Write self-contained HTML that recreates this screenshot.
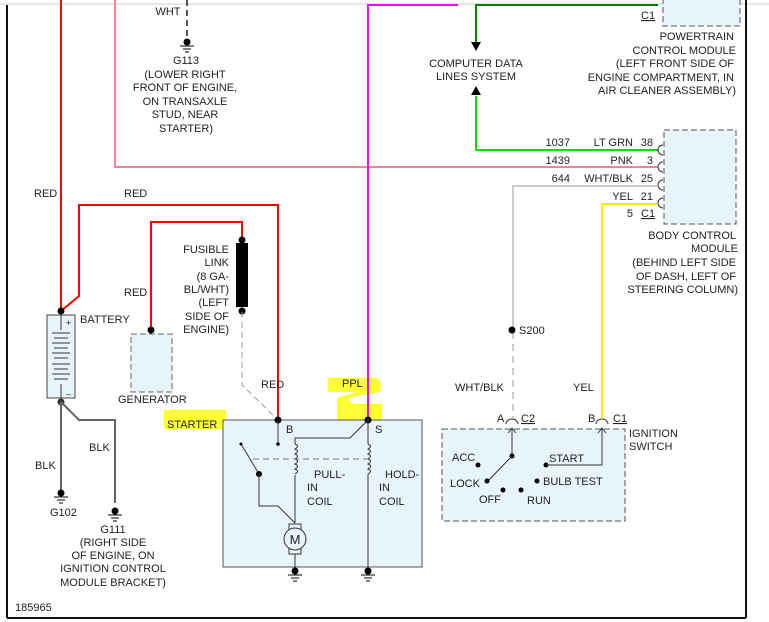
<!DOCTYPE html>
<html><head><meta charset="utf-8"><style>
html,body{margin:0;padding:0;background:#fff}
svg{display:block}
text{font-family:"Liberation Sans",sans-serif;font-size:11px;fill:#222}
</style></head><body>
<svg width="769" height="622" viewBox="0 0 769 622" xmlns="http://www.w3.org/2000/svg">
<line x1="0" y1="4" x2="769" y2="4" stroke="#ccc" stroke-width="1"/>
<line x1="7" y1="5" x2="7" y2="618" stroke="#111" stroke-width="2"/>
<line x1="7" y1="618" x2="746" y2="618" stroke="#111" stroke-width="2"/>
<line x1="746" y1="0" x2="746" y2="618" stroke="#111" stroke-width="2"/>

<!-- highlights -->
<rect x="164" y="410" width="62" height="19" fill="#ffff33"/>
<path d="M328 378 H376 Q383 380 380 392 L348 398 L352 404 H382 V420 H337 L337 398 L356 392 H328 Z" fill="#ffff33"/>

<!-- pink -->
<polyline points="115,0 115,167 658,167" fill="none" stroke="#ff7f9f" stroke-width="2"/>
<!-- magenta -->
<polyline points="458,5 368,5 368,420" fill="none" stroke="#ff00ff" stroke-width="2"/>
<!-- red wires -->
<line x1="61" y1="0" x2="61" y2="311" stroke="#f00" stroke-width="2"/>
<polyline points="61,311 79,296 79,205 278,205 278,420" fill="none" stroke="#f00" stroke-width="2"/>
<polyline points="151,334 151,222 242,222 242,240" fill="none" stroke="#f00" stroke-width="2"/>
<!-- fusible link -->
<rect x="236" y="243" width="12" height="64" fill="#000"/>
<circle cx="242" cy="240" r="3.5" fill="#000"/>
<circle cx="242" cy="311" r="3.5" fill="#000"/>
<polyline points="242,312 242,385 278,420" fill="none" stroke="#999" stroke-width="1" stroke-dasharray="6,4"/>

<!-- G113 -->
<line x1="187" y1="0" x2="187" y2="38" stroke="#555" stroke-width="2" stroke-dasharray="6,4"/>
<circle cx="187" cy="42" r="3.5" fill="#000"/>
<line x1="180" y1="46" x2="194" y2="46" stroke="#000"/><line x1="183" y1="49" x2="191" y2="49" stroke="#000"/><line x1="185" y1="52" x2="189" y2="52" stroke="#000"/>
<text x="168" y="15" text-anchor="middle">WHT</text>
<g text-anchor="middle"><text x="186" y="64">G113</text><text x="185" y="78">(LOWER RIGHT</text><text x="185" y="91">FRONT OF ENGINE,</text><text x="185" y="105">ON TRANSAXLE</text><text x="185" y="118">STUD, NEAR</text><text x="186" y="132">STARTER)</text></g>

<!-- labels RED -->
<text x="34" y="197">RED</text><text x="124" y="197">RED</text><text x="124" y="296">RED</text>
<g text-anchor="end"><text x="229" y="253">FUSIBLE</text><text x="229" y="266">LINK</text><text x="229" y="280">(8 GA-</text><text x="229" y="293">BL/WHT)</text><text x="229" y="306">(LEFT</text><text x="229" y="320">SIDE OF</text><text x="229" y="333">ENGINE)</text></g>

<!-- battery -->
<rect x="47" y="315" width="28" height="83" fill="#e8f4fb" stroke="#444"/>
<circle cx="61" cy="311" r="3.5" fill="#000"/>
<line x1="61" y1="315" x2="61" y2="330" stroke="#333"/>
<g stroke="#333"><line x1="52" y1="333" x2="70" y2="333"/><line x1="54" y1="338" x2="68" y2="338"/><line x1="52" y1="343" x2="70" y2="343"/><line x1="54" y1="348" x2="68" y2="348"/><line x1="52" y1="353" x2="70" y2="353"/><line x1="54" y1="358" x2="68" y2="358"/><line x1="52" y1="364" x2="70" y2="364"/><line x1="54" y1="369" x2="68" y2="369"/><line x1="52" y1="374" x2="70" y2="374"/><line x1="54" y1="379" x2="68" y2="379"/><line x1="61" y1="384" x2="61" y2="398"/></g>
<text x="66" y="326" style="font-size:9px">+</text><text x="66" y="397" style="font-size:9px">–</text>
<text x="80" y="323">BATTERY</text>
<circle cx="61" cy="402" r="3.5" fill="#333"/>
<line x1="61" y1="402" x2="61" y2="490" stroke="#666" stroke-width="2"/>
<polyline points="61,402 79,420 115,420 115,503" fill="none" stroke="#666" stroke-width="2"/>
<circle cx="61" cy="493" r="3.5" fill="#000"/>
<line x1="54" y1="497" x2="68" y2="497" stroke="#000"/><line x1="57" y1="500" x2="65" y2="500" stroke="#000"/><line x1="59" y1="503" x2="63" y2="503" stroke="#000"/>
<circle cx="115" cy="511" r="3.5" fill="#000"/>
<line x1="108" y1="515" x2="122" y2="515" stroke="#000"/><line x1="111" y1="518" x2="119" y2="518" stroke="#000"/><line x1="113" y1="521" x2="117" y2="521" stroke="#000"/>
<text x="35" y="469">BLK</text><text x="89" y="451">BLK</text>
<text x="50" y="516">G102</text>
<g text-anchor="middle"><text x="113" y="533">G111</text><text x="113" y="546">(RIGHT SIDE</text><text x="113" y="559">OF ENGINE, ON</text><text x="113" y="572">IGNITION CONTROL</text><text x="113" y="586">MODULE BRACKET)</text></g>
<text x="15" y="611">185965</text>

<!-- generator -->
<rect x="131" y="334" width="41" height="58" fill="#e8f4fb" stroke="#666" stroke-dasharray="6,3"/>
<circle cx="151" cy="330" r="3.5" fill="#000"/>
<text x="118" y="403">GENERATOR</text>

<!-- starter -->
<rect x="223" y="420" width="199" height="147" fill="#e8f4fb" stroke="#555"/>
<text x="167" y="428">STARTER</text><text x="261" y="388">RED</text><text x="342" y="387">PPL</text>
<circle cx="278" cy="420" r="3.5" fill="#000"/><circle cx="368" cy="420" r="3.5" fill="#000"/>
<text x="286" y="433">B</text><text x="375" y="433">S</text>
<line x1="278" y1="420" x2="278" y2="444" stroke="#333"/><circle cx="278" cy="444" r="1.8" fill="#000"/>
<line x1="241" y1="444" x2="259" y2="474" stroke="#333"/><circle cx="241" cy="444" r="1.5" fill="#000"/><circle cx="259" cy="474" r="3" fill="#000"/>
<polyline points="259,474 259,506 278,506 295,523" fill="none" stroke="#333"/>
<polyline points="295,523 295,475" fill="none" stroke="#333"/>
<path d="M295 444 q5 2 0 5 q5 2 0 5 q5 2 0 5 q5 2 0 5 q5 2 0 5 q5 2 0 5" fill="none" stroke="#333"/>
<polyline points="295,444 295,438 350,438 368,420 368,444" fill="none" stroke="#333"/>
<path d="M368 444 q5 2 0 5 q5 2 0 5 q5 2 0 5 q5 2 0 5 q5 2 0 5 q5 2 0 5" fill="none" stroke="#333"/>
<line x1="368" y1="474" x2="368" y2="568" stroke="#333"/>
<line x1="253" y1="459" x2="368" y2="459" stroke="#777" stroke-dasharray="6,4"/>
<rect x="289" y="524" width="12" height="30" fill="#e8f4fb" stroke="#333"/>
<circle cx="295" cy="539" r="11" fill="#e8f4fb" stroke="#333"/>
<text x="295" y="544" text-anchor="middle" style="font-size:13px">M</text>
<line x1="295" y1="554" x2="295" y2="568" stroke="#333"/>
<circle cx="295" cy="571" r="3.5" fill="#000"/><line x1="288" y1="575" x2="302" y2="575" stroke="#000"/><line x1="291" y1="578" x2="299" y2="578" stroke="#000"/><line x1="293" y1="581" x2="297" y2="581" stroke="#000"/>
<circle cx="368" cy="571" r="3.5" fill="#000"/><line x1="361" y1="575" x2="375" y2="575" stroke="#000"/><line x1="364" y1="578" x2="372" y2="578" stroke="#000"/><line x1="366" y1="581" x2="370" y2="581" stroke="#000"/>
<text x="314" y="478">PULL-</text><text x="307" y="491">IN</text><text x="307" y="505">COIL</text>
<text x="385" y="478">HOLD-</text><text x="379" y="491">IN</text><text x="379" y="505">COIL</text>

<!-- green -->
<polyline points="658,5 476,5 476,44" fill="none" stroke="#008000" stroke-width="2"/>
<polygon points="471,42 481,42 476,51" fill="#000"/>
<polygon points="471,95 481,95 476,86" fill="#000"/>
<polyline points="476,96 476,150 658,150" fill="none" stroke="#00dd00" stroke-width="2"/>
<g text-anchor="middle"><text x="476" y="67">COMPUTER DATA</text><text x="476" y="80">LINES SYSTEM</text></g>

<!-- PCM -->
<rect x="663" y="-5" width="77" height="31" fill="#e8f4fb" stroke="#555" stroke-dasharray="6,3"/>
<text x="641" y="19" text-decoration="underline">C1</text>
<g text-anchor="end"><text x="734" y="40">POWERTRAIN</text><text x="736" y="54">CONTROL MODULE</text><text x="734" y="67">(LEFT FRONT SIDE OF</text><text x="734" y="81">ENGINE COMPARTMENT, IN</text><text x="736" y="94">AIR CLEANER ASSEMBLY)</text></g>

<!-- BCM -->
<rect x="664" y="130" width="72" height="94" fill="#e8f4fb" stroke="#555" stroke-dasharray="6,3"/>
<g fill="none" stroke="#333"><path d="M663 145 a5 5 0 0 0 0 10"/><path d="M663 162 a5 5 0 0 0 0 10"/><path d="M663 180 a5 5 0 0 0 0 10"/><path d="M663 198 a5 5 0 0 0 0 10"/></g>
<g text-anchor="end"><text x="570" y="146">1037</text><text x="633" y="146">LT GRN</text><text x="653" y="146">38</text>
<text x="570" y="164">1439</text><text x="633" y="164">PNK</text><text x="653" y="164">3</text>
<text x="570" y="182">644</text><text x="633" y="182">WHT/BLK</text><text x="653" y="182">25</text>
<text x="633" y="200">YEL</text><text x="653" y="200">21</text>
<text x="633" y="217">5</text></g>
<text x="641" y="217" text-decoration="underline">C1</text>
<g text-anchor="end"><text x="736" y="239">BODY CONTROL</text><text x="738" y="252">MODULE</text><text x="736" y="266">(BEHIND LEFT SIDE</text><text x="736" y="280">OF DASH, LEFT OF</text><text x="738" y="293">STEERING COLUMN)</text></g>

<polyline points="657,186 513,186 513,328" fill="none" stroke="#ccc" stroke-width="2"/>
<line x1="513" y1="332" x2="513" y2="418" stroke="#ccc" stroke-width="2" stroke-dasharray="7,5"/>
<circle cx="512" cy="330" r="3.5" fill="#000"/><text x="519" y="334">S200</text>
<polyline points="657,204 602,204 602,418" fill="none" stroke="#ffee00" stroke-width="2"/>
<text x="455" y="391">WHT/BLK</text><text x="573" y="391">YEL</text>

<!-- ignition switch -->
<rect x="442" y="429" width="183" height="92" fill="#e8f4fb" stroke="#555" stroke-dasharray="6,3"/>
<path d="M506 424 a6 5 0 0 1 12 0" fill="none" stroke="#333"/><path d="M596 424 a6 5 0 0 1 12 0" fill="none" stroke="#333"/>
<text x="497" y="422">A</text><text x="521" y="422" text-decoration="underline">C2</text>
<text x="588" y="422">B</text><text x="613" y="422" text-decoration="underline">C1</text>
<text x="629" y="437">IGNITION</text><text x="629" y="450">SWITCH</text>
<polyline points="508,433 512,428 516,433" fill="none" stroke="#333"/><polyline points="598,433 602,428 606,433" fill="none" stroke="#333"/>
<line x1="512" y1="428" x2="512" y2="456" stroke="#333"/>
<circle cx="512" cy="456" r="2.5" fill="#000"/>
<line x1="512" y1="456" x2="488" y2="481" stroke="#333"/>
<circle cx="487" cy="481" r="2.5" fill="#000"/><circle cx="478" cy="465" r="2.5" fill="#000"/>
<circle cx="503" cy="490" r="2.5" fill="#000"/><circle cx="521" cy="490" r="2.5" fill="#000"/>
<circle cx="537" cy="481" r="2.5" fill="#000"/><circle cx="546" cy="465" r="2.5" fill="#000"/>
<polyline points="546,465 602,465 602,428" fill="none" stroke="#333"/>
<text x="452" y="461">ACC</text><text x="450" y="487">LOCK</text><text x="479" y="503">OFF</text><text x="527" y="504">RUN</text>
<text x="543" y="485">BULB TEST</text><text x="549" y="462">START</text>
</svg>
</body></html>
